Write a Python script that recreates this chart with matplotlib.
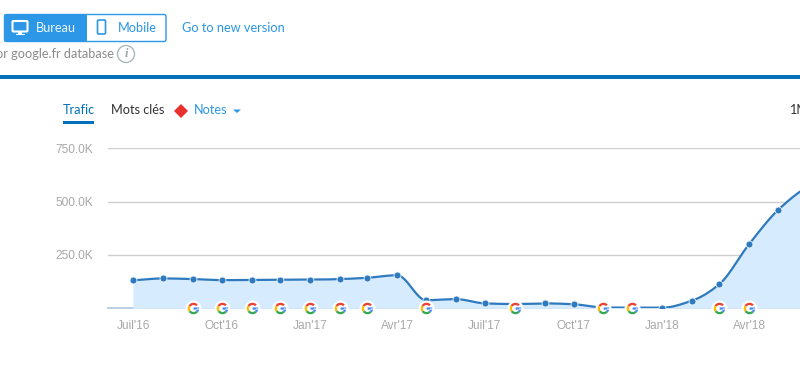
import numpy as np
import matplotlib
matplotlib.use("Agg")
import matplotlib.pyplot as plt
import matplotlib.dates as mdates
from matplotlib.path import Path
from matplotlib.patches import Rectangle, FancyBboxPatch, Polygon, Circle
from datetime import date

months = ["2016-07","2016-08","2016-09","2016-10","2016-11","2016-12","2017-01","2017-02","2017-03","2017-04",
          "2017-05","2017-06","2017-07","2017-08","2017-09","2017-10","2017-11","2017-12","2018-01","2018-02",
          "2018-03","2018-04","2018-05","2018-06","2018-07"]
traffic_k = [131, 140, 137, 132, 133, 134, 134, 137, 143, 155,
             38, 43, 23, 20, 23, 19, 4, 3, 3, 36,
             112, 300, 460, 570, 630]
update_months = ["2016-09","2016-10","2016-11","2016-12","2017-01","2017-02","2017-03",
                 "2017-05","2017-08","2017-11","2017-12","2018-03","2018-04"]
y_ticks = [250, 500, 750]
y_labels = ["250.0K", "500.0K", "750.0K"]
x_tick_months = ["2016-07","2016-10","2017-01","2017-04","2017-07","2017-10","2018-01","2018-04"]
x_labels = ["Juil'16","Oct'16","Jan'17","Avr'17","Juil'17","Oct'17","Jan'18","Avr'18"]

W, H = 800, 387
UI = ["Lato", "DejaVu Sans"]
fig = plt.figure(figsize=(W/100, H/100), dpi=100, facecolor="white")

def num(m):
    y, mo = m.split("-")
    return mdates.date2num(date(int(y), int(mo), 1))

def smooth(x, y, n=24):
    """Monotone cubic Hermite drawn through the read values."""
    x, y = np.asarray(x, float), np.asarray(y, float)
    h = np.diff(x); s = np.diff(y)/h
    t = np.zeros_like(y)
    for i in range(1, len(y)-1):
        if s[i-1]*s[i] > 0:
            w1, w2 = 2*h[i]+h[i-1], h[i]+2*h[i-1]
            t[i] = (w1+w2)/(w1/s[i-1]+w2/s[i])
    t[0], t[-1] = s[0], s[-1]
    xs, ys = [], []
    for i in range(len(h)):
        u = np.linspace(0, 1, n, endpoint=False)
        xs.append(x[i]+u*h[i])
        ys.append((2*u**3-3*u**2+1)*y[i]+(u**3-2*u**2+u)*h[i]*t[i]
                  +(-2*u**3+3*u**2)*y[i+1]+(u**3-u**2)*h[i]*t[i+1])
    return np.concatenate(xs+[[x[-1]]]), np.concatenate(ys+[[y[-1]]])

# main chart
L, R, T, B = 108, 800, 148.3, 308.3
ax = fig.add_axes([L/W, 1-B/H, (R-L)/W, (B-T)/H])
x = np.array([num(m) for m in months])
scale = (749-133)/(num("2018-04")-num("2016-07"))
ax.set_xlim(x[0]-(133-L)/scale, x[0]+(R-133)/scale)
ax.set_ylim(0, 750)
for s in ax.spines.values():
    s.set_visible(False)
ax.set_yticks(y_ticks, y_labels)
ax.set_xticks([num(m) for m in x_tick_months], x_labels)
ax.tick_params(length=0, labelsize=8.6, labelcolor="#a8a8a8")
ax.tick_params(axis="y", pad=10.5)
ax.tick_params(axis="x", pad=8.5)
for lab in ax.get_xticklabels()+ax.get_yticklabels():
    lab.set_fontfamily(["Liberation Sans", "DejaVu Sans"])
ax.grid(axis="y", color="#cfcfcf", lw=1)
ax.set_axisbelow(True)
ax.axhline(0, color="#b9cfe8", lw=1.4, clip_on=False, zorder=1)

xs, ys = smooth(x, traffic_k)
ax.fill_between(xs, 0, ys, color="#d6ebfd", lw=0, zorder=2)
ax.plot(xs, ys, color="#2f7abf", lw=1.6, zorder=3, solid_capstyle="round")
ax.plot(x, traffic_k, ls="none", marker="o", ms=5, mfc="#2f7abf", mec="#eaf4fc", mew=0.6, zorder=4)

# Google update markers
def ring(a1, a2, ro=1.0, ri=0.6, n=14):
    a = np.radians(np.linspace(a1, a2, n))
    return np.r_[np.c_[ro*np.cos(a), ro*np.sin(a)], np.c_[ri*np.cos(a[::-1]), ri*np.sin(a[::-1])]]

def marker(*polys):
    verts, codes = [(1, 1), (1, 1)], [Path.MOVETO, Path.LINETO]
    for p in polys:
        verts += [tuple(v) for v in p] + [tuple(p[0])]
        codes += [Path.MOVETO] + [Path.LINETO]*(len(p)-1) + [Path.CLOSEPOLY]
    return Path(verts, codes)

ux = [num(m) for m in update_months]
uy = [0]*len(ux)
bar = np.array([[0.02, 0.18], [1.0, 0.18], [1.0, -0.2], [0.02, -0.2]])
parts = [
    ("#ea4335", marker(ring(42, 148))),
    ("#fbbc05", marker(ring(148, 215))),
    ("#34a853", marker(ring(215, 318))),
    ("#4285f4", marker(ring(318, 360), bar)),
]
ax.plot(ux, uy, ls="none", marker="o", ms=11.5, mfc="white", mew=0, zorder=5, clip_on=False)
for col, mk in parts:
    ax.plot(ux, uy, ls="none", marker=mk, ms=8.3, mfc=col, mew=0, zorder=6, clip_on=False)

# interface around the chart
ui = fig.add_axes([0, 0, 1, 1], facecolor="none")
ui.set_xlim(0, W); ui.set_ylim(H, 0); ui.axis("off")
BLUE = "#2b97e6"; DEEP = "#0070b9"
ui.add_patch(FancyBboxPatch((4.5, 14.5), 161.5, 27, boxstyle="round,pad=0,rounding_size=2", fc="white", ec=BLUE, lw=1))
ui.add_patch(FancyBboxPatch((4, 14), 83, 28, boxstyle="round,pad=0,rounding_size=2", fc=BLUE, ec="none"))
# monitor icon
ui.add_patch(FancyBboxPatch((12.5, 21), 15, 10.5, boxstyle="round,pad=0,rounding_size=1", fc="none", ec="white", lw=1.5))
ui.add_patch(Rectangle((18, 32), 4, 2.5, fc="white"))
ui.add_patch(Rectangle((15.5, 33.5), 9, 1.5, fc="white"))
# phone icon
ui.add_patch(FancyBboxPatch((97.5, 20), 8, 14, boxstyle="round,pad=0,rounding_size=1.2", fc="none", ec=BLUE, lw=1.2))
ui.add_patch(Rectangle((99, 31.5), 5, 0.9, fc=BLUE))

def txt(px, py, s, size=9.2, color="#333333", ha="left", **k):
    return ui.text(px, py, s, fontsize=size, color=color, ha=ha, va="center", family=UI, **k)

txt(36, 27.5, "Bureau", color="#eef7fe")
txt(118, 27.5, "Mobile", color=BLUE)
txt(182, 28.5, "Go to new version", color=BLUE)
txt(114, 54, "or google.fr database", color="#8a8a8a", ha="right")
ui.add_patch(Circle((126, 54), 8.5, fc="white", ec="#a9b8bd", lw=1))
ui.text(126, 54, "i", fontsize=9, color="#9aa5a8", ha="center", va="center", style="italic", weight="bold", family="Liberation Serif")
ui.add_patch(Rectangle((0, 75), W, 4, fc=DEEP, lw=0))
txt(63, 110.5, "Trafic", color=DEEP)
ui.add_patch(Rectangle((63, 121), 31, 3, fc=DEEP, lw=0))
txt(111, 110.5, "Mots clés")
ui.add_patch(Polygon([(181, 104), (188, 111), (181, 118), (174, 111)], fc="#e8302e", lw=0))
txt(194, 110.5, "Notes", color=BLUE)
ui.add_patch(Polygon([(233, 109.5), (241, 109.5), (237, 113)], fc=BLUE, lw=0))
txt(789, 110.5, "1M", clip_on=True)

fig.savefig("out.png", dpi=100)
